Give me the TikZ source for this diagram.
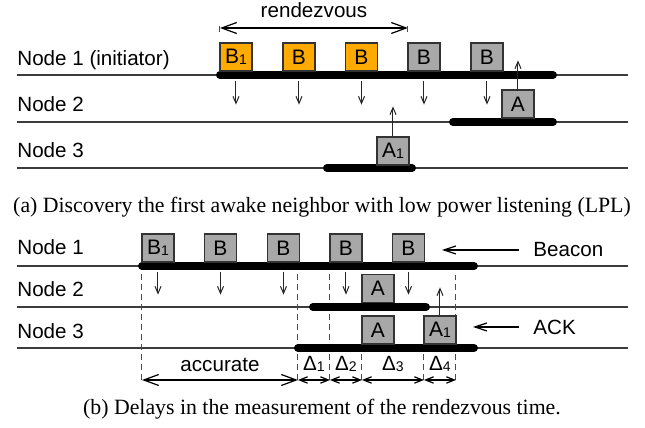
\documentclass[tikz,border=0pt]{standalone}
\usepackage{fontspec}
\setmainfont{Liberation Sans}
\newfontfamily\capfont{Liberation Serif}
\usepackage{tikz}
\usetikzlibrary{arrows.meta,positioning}
\usepackage{xcolor}
\definecolor{lplorange}{RGB}{255,170,0}
\definecolor{lplgray}{RGB}{168,168,168}
\definecolor{lplline}{RGB}{60,60,60}
\newcommand{\pidx}[1]{\raisebox{-0.6pt}{\fontsize{7}{8}\selectfont #1}}
\tikzstyle{lbl} = [font=\fontsize{10.3}{12}\selectfont, inner sep=0pt]
\tikzstyle{caption} = [font=\capfont\fontsize{10.9}{13}\selectfont, inner sep=0pt]
\tikzstyle{timeline} = [line width=0.6pt, color=lplline]
\tikzstyle{awake} = [line width=4pt, line cap=round]
\tikzstyle{pkt} = [rectangle, draw=black!80, line width=0.6pt, fill=lplgray, minimum width=16pt, minimum height=14pt, inner sep=0pt, font=\fontsize{10.5}{12}\selectfont]
\tikzstyle{tx} = [line width=0.5pt, color=black!85, -{Straight Barb[length=3.5pt,width=3pt]}]
\tikzstyle{period} = [line width=0.6pt, {Straight Barb[length=7.5pt,width=5.5pt]}-{Straight Barb[length=7.5pt,width=5.5pt]}]
\tikzstyle{delta} = [line width=0.6pt, {Straight Barb[length=4pt,width=3.2pt]}-{Straight Barb[length=4pt,width=3.2pt]}]
\tikzstyle{pointer} = [line width=0.6pt, -{Straight Barb[length=6pt,width=4pt]}]
\tikzstyle{guide} = [line width=0.5pt, color=black!70, dash pattern=on 3pt off 2pt]

\begin{document}
\begin{tikzpicture}[x=0.5pt,y=-0.5pt]
\useasboundingbox (0,0) rectangle (645,428);

% (a) discovery with LPL
\node (a_n1) [lbl, anchor=base west] at (17,66) {Node 1 (initiator)};
\node (a_n2) [lbl, anchor=base west] at (17,112) {Node 2};
\node (a_n3) [lbl, anchor=base west] at (17,158) {Node 3};
\draw[timeline] (17,75) -- (628,75);
\draw[timeline] (17,122) -- (628,122);
\draw[timeline] (17,168) -- (628,168);
\draw[awake] (220,75) -- (553,75);
\draw[awake] (453,122) -- (553,122);
\draw[awake] (327,168) -- (412,168);

\node (a_b1) [pkt, fill=lplorange] at (236,57) {B\pidx{1}};
\node (a_b2) [pkt, fill=lplorange] at (299,57) {B};
\node (a_b3) [pkt, fill=lplorange] at (361.5,57) {B};
\node (a_b4) [pkt] at (424,57) {B};
\node (a_b5) [pkt] at (487,57) {B};
\node (a_a) [pkt] at (518,104) {A};
\node (a_a1) [pkt] at (393,151) {A\pidx{1}};

\foreach \b in {a_b1,a_b2,a_b3,a_b4,a_b5}
  \draw[tx] ([yshift=-4.5pt]\b.south) -- ([yshift=-16.5pt]\b.south);
\draw[tx] (a_a.north) -- ([yshift=14.5pt]a_a.north);
\draw[tx] (a_a1.north) -- ([yshift=15pt]a_a1.north);

\coordinate (rv_l) at (220,28);
\coordinate (rv_r) at (408,28);
\draw[period] (rv_l) -- node[lbl, above=5pt] (rv_txt) {rendezvous} (rv_r);
\draw[guide] ([yshift=1pt]rv_l) -- ([yshift=-3.5pt]rv_l);
\draw[guide] ([yshift=1pt]rv_r) -- ([yshift=-3.5pt]rv_r);

\node (cap_a) [caption] at (322,207) {(a) Discovery the first awake neighbor with low power listening (LPL)};

% (b) delays in the measurement
\node (b_n1) [lbl, anchor=base west] at (17,255) {Node 1};
\node (b_n2) [lbl, anchor=base west] at (17,297) {Node 2};
\node (b_n3) [lbl, anchor=base west] at (17,339) {Node 3};
\draw[timeline] (17,266) -- (628,266);
\draw[timeline] (17,307) -- (628,307);
\draw[timeline] (17,348) -- (628,348);

\coordinate (g0) at (142,380);
\coordinate (g1) at (298,380);
\coordinate (g2) at (330,380);
\coordinate (g3) at (362,380);
\coordinate (g4) at (424,380);
\coordinate (g5) at (456,380);
\draw[guide] (g0) -- (142,266);
\draw[guide] (g1) -- (298,262);
\draw[guide] (g2) -- (330,262);
\draw[guide] (g3) -- (362,344);
\draw[guide] (g4) -- (424,344);
\draw[guide] (g5) -- (456,275);

\draw[awake] (142,266) -- (474,266);
\draw[awake] (313,307) -- (426,307);
\draw[awake] (298,348) -- (474,348);

\node (b_b1) [pkt] at (158,248) {B\pidx{1}};
\node (b_b2) [pkt] at (220.5,248) {B};
\node (b_b3) [pkt] at (283.5,248) {B};
\node (b_b4) [pkt] at (346,248) {B};
\node (b_b5) [pkt] at (408.5,248) {B};
\node (b_a) [pkt] at (378,288.5) {A};
\node (b_c) [pkt] at (378,330) {A};
\node (b_c1) [pkt] at (440,330) {A\pidx{1}};

\foreach \b in {b_b1,b_b2,b_b3,b_b4,b_b5}
  \draw[tx] ([yshift=-4.5pt]\b.south) -- ([yshift=-16pt]\b.south);
\draw[tx] (b_c1.north) -- ([yshift=14pt]b_c1.north);

\node (beacon) [lbl, anchor=west] at (533,250) {Beacon};
\node (ack) [lbl, anchor=west] at (533,327) {ACK};
\draw[pointer] ([xshift=-7pt]beacon.west) -- ([xshift=-45.5pt]beacon.west);
\draw[pointer] ([xshift=-7pt]ack.west) -- ([xshift=-30pt]ack.west);

\draw[period] (g0) -- node[lbl, above=4pt] (acc) {accurate} (g1);
\draw[delta] (g1) -- node[lbl, above=4pt] (d1) {Δ\pidx{1}} (g2);
\draw[delta] (g2) -- node[lbl, above=4pt] (d2) {Δ\pidx{2}} (g3);
\draw[delta] (g3) -- node[lbl, above=4pt] (d3) {Δ\pidx{3}} (g4);
\draw[delta] (g4) -- node[lbl, above=4pt] (d4) {Δ\pidx{4}} (g5);

\node (cap_b) [caption] at (322,409) {(b) Delays in the measurement of the rendezvous time.};
\end{tikzpicture}
\end{document}
